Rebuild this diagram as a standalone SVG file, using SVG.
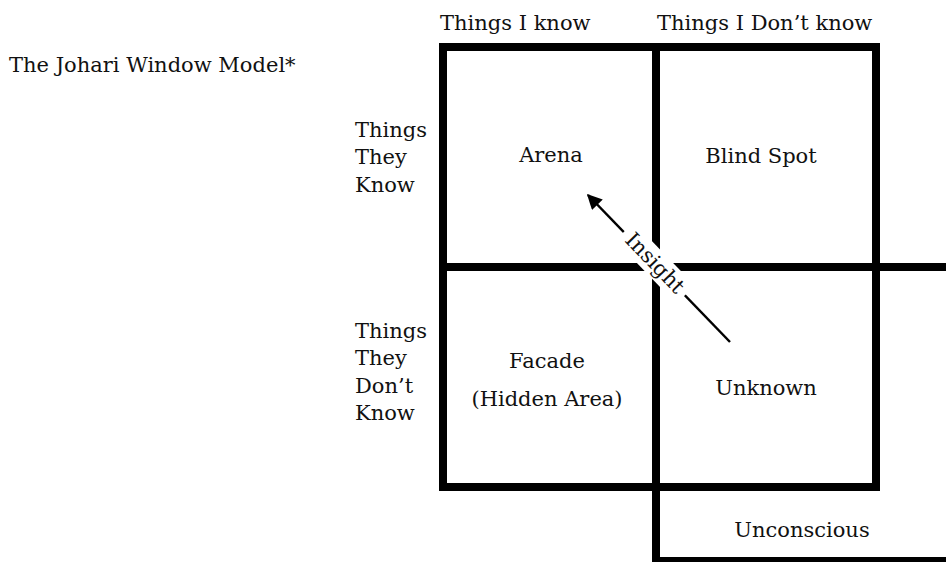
<svg xmlns="http://www.w3.org/2000/svg" width="946" height="563" viewBox="0 0 946 563">
  <style>
    text { font-family: "DejaVu Serif", "Liberation Serif", serif; font-size: 21px; fill: #111; }
    .c { text-anchor: middle; }
    .frame { stroke: #000; stroke-width: 8; fill: none; stroke-linecap: square; }
    .thin { stroke: #000; stroke-width: 5; fill: none; }
    .arrow { stroke: #000; stroke-width: 2.5; fill: none; }
  </style>
  <defs>
    <marker id="ah" viewBox="0 0 10 10" refX="9" refY="5" markerWidth="7" markerHeight="6" markerUnits="strokeWidth" orient="auto">
      <path d="M0,0 L10,5 L0,10 z" fill="#000"/>
    </marker>
  </defs>

  <text id="title" x="9" y="72">The Johari Window Model*</text>

  <g id="col-headers">
    <text x="440" y="30">Things I know</text>
    <text x="657" y="30">Things I Don’t know</text>
  </g>

  <g id="row-know">
    <text x="355" y="137">Things</text>
    <text x="355" y="164">They</text>
    <text x="355" y="192">Know</text>
  </g>
  <g id="row-dontknow">
    <text x="355" y="338">Things</text>
    <text x="355" y="365">They</text>
    <text x="355" y="393">Don’t</text>
    <text x="355" y="420">Know</text>
  </g>

  <g id="grid">
    <line class="frame" x1="443" y1="47" x2="876" y2="47"/>
    <line class="frame" x1="443" y1="47" x2="443" y2="487"/>
    <line class="frame" x1="876" y1="47" x2="876" y2="487"/>
    <line class="frame" x1="443" y1="487" x2="876" y2="487"/>
    <line class="frame" x1="656" y1="47" x2="656" y2="558"/>
    <line class="frame" x1="443" y1="267" x2="946" y2="267" style="stroke-linecap:butt"/>
    <line class="thin" x1="652" y1="559.5" x2="946" y2="559.5"/>
  </g>

  <g id="arena"><text class="c" x="551" y="162">Arena</text></g>
  <g id="blind-spot"><text class="c" x="761" y="163">Blind Spot</text></g>
  <g id="facade">
    <text class="c" x="547" y="368">Facade</text>
    <text class="c" x="547" y="406">(Hidden Area)</text>
  </g>
  <g id="unknown"><text class="c" x="766" y="395">Unknown</text></g>
  <g id="unconscious"><text class="c" x="802" y="537">Unconscious</text></g>

  <g id="connectors">
    <line class="arrow" x1="730" y1="342" x2="588" y2="195" marker-end="url(#ah)"/>
    <g transform="translate(655,263) rotate(46)">
      <rect x="-44" y="-13" width="88" height="26" fill="#fff"/>
      <text class="c" x="0" y="7">Insight</text>
    </g>
  </g>
</svg>
